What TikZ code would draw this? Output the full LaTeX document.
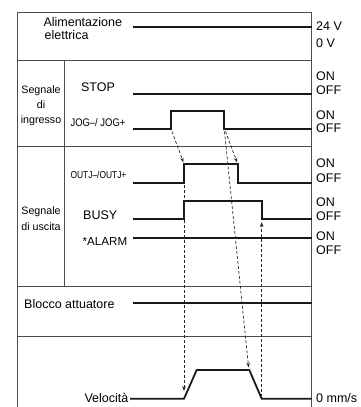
\documentclass[tikz,border=0pt]{standalone}
\usepackage{fontspec}
\setmainfont{Liberation Sans}
\usetikzlibrary{arrows.meta}
\begin{document}
\begin{tikzpicture}[x=1pt,y=-1pt,
  frame/.style={draw=black!70, line width=0.9pt},
  sig/.style={draw=black!90, line width=1.8pt, line join=miter},
  cause/.style={draw=black!85, line width=0.7pt, densely dashed, -{Stealth[length=5pt,width=3.6pt]}},
  lbl/.style={inner sep=0pt, font=\fontsize{12.5}{14}\selectfont},
  small/.style={inner sep=0pt, anchor=base, font=\fontsize{10.7}{14}\selectfont},
  state/.style={inner sep=0pt, anchor=base west, font=\fontsize{12.5}{14}\selectfont},
  narrow/.style={inner sep=0pt, anchor=base, font=\fontsize{11}{13}\selectfont},
]
\useasboundingbox (0,0) rectangle (360,407);
% frame
\draw[frame] (17,407) -- (17,12) -- (311.7,12) -- (311.7,407);
\draw[frame] (17,60) -- (311.7,60);
\draw[frame] (17,146.5) -- (311.7,146.5);
\draw[frame] (17,286) -- (311.7,286);
\draw[frame] (17,336.7) -- (311.7,336.7);
\draw[frame] (64,60) -- (64,286);

% left labels
\node[lbl, anchor=base west] (alim1) at (43.3,26.8) {Alimentazione};
\node[lbl, anchor=base west] (alim2) at (44.5,39.3) {elettrica};
\node[small] (sin1) at (41,93.3) {Segnale};
\node[small] (sin2) at (41,108.3) {di};
\node[small] (sin3) at (41,123.3) {ingresso};
\node[small] (sout1) at (41,214) {Segnale};
\node[small] (sout2) at (41,230.5) {di uscita};
\node[lbl, anchor=base] (stop) at (98,91.7) {STOP};
\node[narrow] (jog) at (98,126.8) {\scalebox{0.86}[1]{JOG–/ JOG+}};
\node[narrow, font=\fontsize{10}{11}\selectfont] (outj) at (98.5,178) {\scalebox{0.84}[1]{OUTJ–/OUTJ+}};
\node[lbl, anchor=base west] (busy) at (83,219) {BUSY};
\node[lbl, anchor=base west, font=\fontsize{11.6}{14}\selectfont] (alarm) at (82.5,245.5) {*ALARM};
\node[lbl, anchor=base west] (blocco) at (24,308.7) {Blocco attuatore};
\node[lbl, anchor=base east] (vel) at (128.5,402.5) {Velocità};

% right labels
\node[state] (v24) at (316,30.7) {24 V};
\node[state] (v0) at (316,47.3) {0 V};
\node[state] (on1) at (316,80) {ON};
\node[state] (off1) at (316,94.3) {OFF};
\node[state] (on2) at (316,119) {ON};
\node[state] (off2) at (316,132.7) {OFF};
\node[state] (on3) at (316,167.3) {ON};
\node[state] (off3) at (316,182.7) {OFF};
\node[state] (on4) at (316,206) {ON};
\node[state] (off4) at (316,220.7) {OFF};
\node[state] (on5) at (316,240) {ON};
\node[state] (off5) at (316,254) {OFF};
\node[state] (mms) at (316,402.7) {0 mm/s};

% signals
\draw[sig] (132.7,27.3) -- (311.7,27.3);
\draw[sig] (132.7,94.3) -- (311.7,94.3);
\draw[sig] (132.7,129.3) -- (171,129.3) -- (171,111) -- (224,111) -- (224,129.3) -- (311.7,129.3);
\draw[sig] (132.7,182.7) -- (184,182.7) -- (184,164) -- (237.7,164) -- (237.7,182.7) -- (311.7,182.7);
\draw[sig] (132.7,219) -- (184,219) -- (184,200.7) -- (261.7,200.7) -- (261.7,219) -- (311.7,219);
\draw[sig] (132.7,237.7) -- (311.7,237.7);
\draw[sig] (132.7,303.3) -- (311.7,303.3);
\draw[sig] (130,398.7) -- (184,398.7) -- (196.7,370) -- (249.3,370) -- (261.7,398.7) -- (311.7,398.7);

% cause-effect arrows
\coordinate (jogUp) at (172,131.5);
\coordinate (outjUp) at (183.5,162.5);
\coordinate (jogDnA) at (225.5,131.5);
\coordinate (outjDn) at (237.2,162.5);
\coordinate (jogDnB) at (224.5,131.5);
\coordinate (velDn) at (248.6,367.5);
\coordinate (outjLow) at (184,185);
\coordinate (velUp) at (184,391);
\coordinate (velEnd) at (261.7,397);
\coordinate (busyDn) at (261.7,222);
\draw[cause] (jogUp) -- (outjUp);
\draw[cause] (jogDnA) -- (outjDn);
\draw[cause] (jogDnB) -- (velDn);
\draw[cause] (outjLow) -- (velUp);
\draw[cause] (velEnd) -- (busyDn);
\end{tikzpicture}
\end{document}
